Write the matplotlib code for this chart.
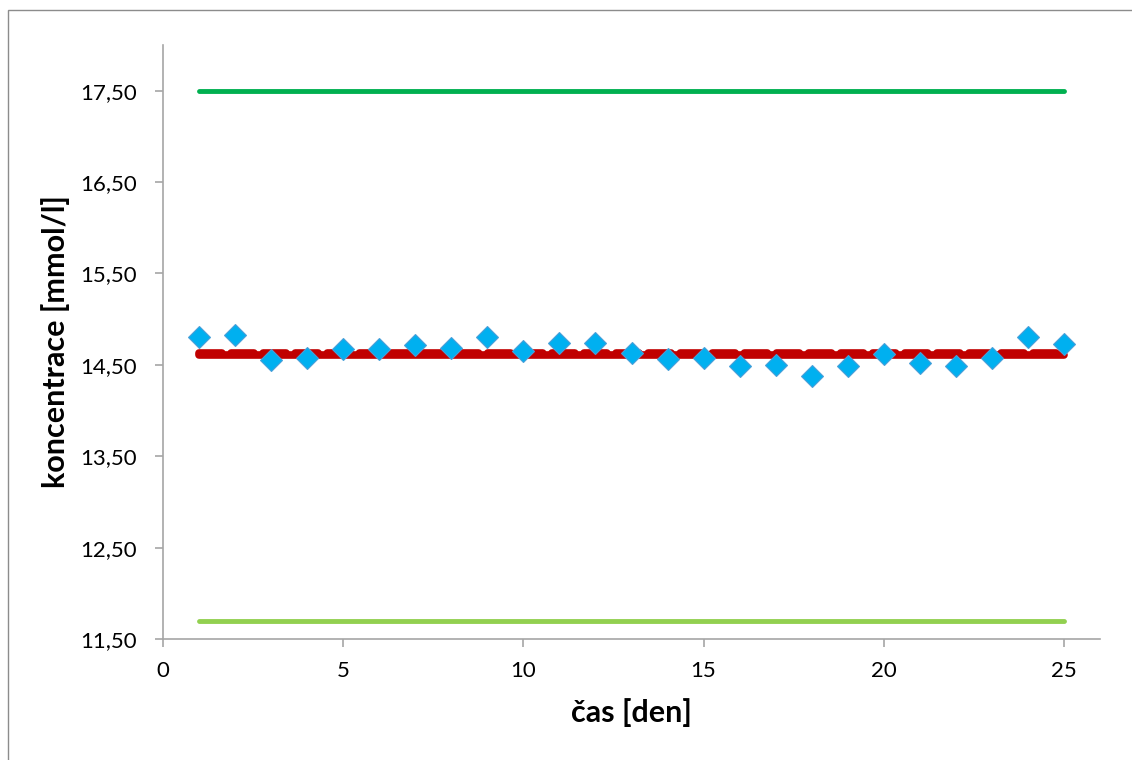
import numpy as np
import matplotlib.pyplot as plt
from matplotlib.ticker import FuncFormatter
from matplotlib.patches import Rectangle

# data
dny = list(range(1, 26))
hodnoty = [14.80, 14.83, 14.55, 14.57, 14.67, 14.67, 14.72, 14.68, 14.81, 14.65,
           14.74, 14.74, 14.63, 14.56, 14.57, 14.49, 14.50, 14.38, 14.49, 14.62,
           14.52, 14.49, 14.58, 14.81, 14.73]
horni_mez = [17.50] * 25
dolni_mez = [11.70] * 25
cil = [14.607] * 25
prumer = [14.63] * 25

plt.rcParams['font.family'] = ['Lato', 'DejaVu Sans']

fig = plt.figure(figsize=(11.32, 7.60), dpi=100)
ax = fig.add_axes([163/1132, 1 - 639/760, (1100 - 163)/1132, (639 - 45)/760])

# okraj grafu
fig.patches.append(Rectangle((8/1132, -0.01), 1.0, 1 - 10/760 + 0.01, transform=fig.transFigure,
                             fill=False, edgecolor='#8c8c8c', linewidth=1))

ax.plot(dny, horni_mez, color='#00B050', lw=3.5, solid_capstyle='round', zorder=2)
ax.plot(dny, dolni_mez, color='#92D050', lw=3.5, solid_capstyle='round', zorder=2)
ax.plot(dny, cil, color='#C00000', lw=5.5, solid_capstyle='round', zorder=2)
ax.plot(dny, prumer, color='#C00000', lw=5.5, ls=(0, (3, 1.2)), dash_capstyle='round', zorder=3)
ax.plot(dny, hodnoty, ls='none', marker='D', markersize=11, markerfacecolor='#00B0F0',
        markeredgecolor='#4A9FD8', markeredgewidth=0.8, zorder=4)

ax.set_xlim(0, 26)
ax.set_ylim(11.5, 18.0)
ax.set_xticks([0, 5, 10, 15, 20, 25])
ax.set_yticks([11.5, 12.5, 13.5, 14.5, 15.5, 16.5, 17.5])
ax.yaxis.set_major_formatter(FuncFormatter(lambda v, p: f'{v:.2f}'.replace('.', ',')))

for s in ['top', 'right']:
    ax.spines[s].set_visible(False)
for s in ['left', 'bottom']:
    ax.spines[s].set_color('#a6a6a6')
    ax.spines[s].set_linewidth(1.2)
ax.tick_params(direction='out', length=6, width=1.2, color='#a6a6a6',
               labelsize=16, labelcolor='black')
ax.tick_params(axis='x', pad=10)
ax.tick_params(axis='y', pad=13)

ax.set_xlabel('čas [den]', fontsize=22, fontweight='bold', labelpad=12)
ax.set_ylabel('koncentrace [mmol/l]', fontsize=22, fontweight='bold')
ax.yaxis.set_label_coords(-0.099, 0.5)

fig.savefig('out.png', dpi=100)
